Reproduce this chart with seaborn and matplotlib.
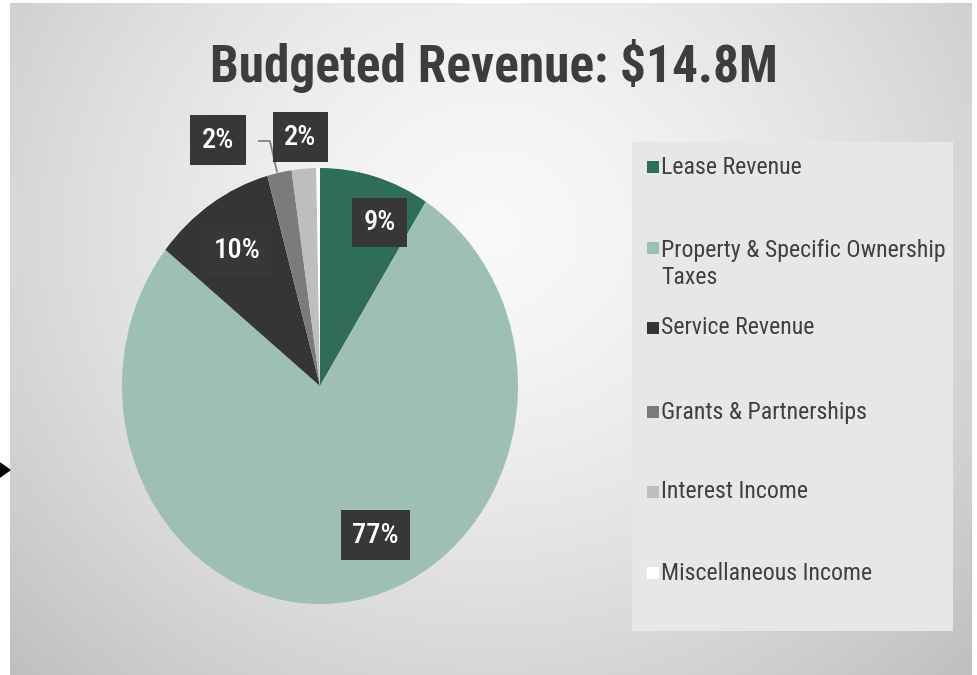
import numpy as np
import matplotlib
matplotlib.use("Agg")
import matplotlib.pyplot as plt
import seaborn as sns
from matplotlib.patches import Rectangle, Polygon

sns.set_theme(style="white")
plt.rcParams["font.family"] = ["Roboto Condensed", "DejaVu Sans"]

# ---- data ----
title = "Budgeted Revenue: $14.8M"
categories = ["Lease Revenue", "Property & Specific Ownership\nTaxes", "Service Revenue",
              "Grants & Partnerships", "Interest Income", "Miscellaneous Income"]
values = [9, 77, 10, 2, 2, 0.3]
pct_labels = ["9%", "77%", "10%", "2%", "2%", ""]
colors = ["#2f6d57", "#9ebfb1", "#353535", "#7b7b7b", "#bebebe", "#ffffff"]

W, H = 977, 675
fig = plt.figure(figsize=(W / 100, H / 100), dpi=100)

# ---- slide background gradient ----
bg = fig.add_axes([0, 0, 1, 1], zorder=-10)
yy, xx = np.mgrid[0:H, 0:W]
d = np.sqrt(((xx - 490) / 560.0) ** 2 + ((yy - 230) / 520.0) ** 2)
v = np.clip(0.975 - 0.17 * d ** 1.5, 0, 1)
img = np.dstack([v, v, v])
img[:, :10] = 1.0
img[:, 972:] = 1.0
img[:3, :] = 1.0
bg.imshow(img, extent=[0, W, H, 0], aspect="auto", interpolation="bilinear")
bg.set_xlim(0, W)
bg.set_ylim(H, 0)
bg.axis("off")
# small arrow at the left edge
bg.add_patch(Polygon([[0, 463], [10, 470], [0, 477]], closed=True, color="black"))
# legend panel
bg.add_patch(Rectangle((632, 142), 321, 489, facecolor="#e7e7e7", edgecolor="none"))

def px(x, y):
    return x / W, 1 - y / H

# ---- title ----
fig.text(*px(494, 66), title, ha="center", va="center", fontsize=37,
         fontweight="bold", color="#3d3d3d")

# ---- pie ----
cx, cy, rx, ry = 320, 386, 198, 218
ax = fig.add_axes([(cx - rx) / W, 1 - (cy + ry) / H, 2 * rx / W, 2 * ry / H])
wedges, _ = ax.pie(values, colors=colors, startangle=90, counterclock=False,
                   radius=1, wedgeprops=dict(linewidth=0))
ax.set_xlim(-1, 1)
ax.set_ylim(-1, 1)
ax.set_aspect("auto")
ax.axis("off")

label_pos = [(0.30, 0.75), (0.28, -0.685), (-0.42, 0.62), (-0.515, 1.128), (-0.10, 1.142), None]
for lab, pos in zip(pct_labels, label_pos):
    if pos is None or not lab:
        continue
    ax.text(pos[0], pos[1], lab, ha="center", va="center", fontsize=20.5, color="white",
            fontweight="medium",
            bbox=dict(boxstyle="square,pad=0.4", facecolor="#373737", edgecolor="none"))
# leader line for Grants label
ax.plot([-0.31, -0.253, -0.217], [1.124, 1.124, 0.982], color="#7b7b7b", lw=1.2,
        clip_on=False)

# ---- legend (manual) ----
legend_rows = [167, 264, 328, 412, 492, 573]
for cat, col, yrow in zip(categories, colors, legend_rows):
    n = cat.count("\n") + 1
    sq_y = yrow - (n - 1) * 16
    fig.patches.append(Rectangle(px(647, sq_y + 6), 12 / W, 12 / H, facecolor=col,
                                 edgecolor="none", transform=fig.transFigure))
    fig.text(*px(661, yrow), cat, ha="left", va="center", fontsize=17.2,
             color="#404040", linespacing=1.2)

fig.savefig("out.png", dpi=100)
